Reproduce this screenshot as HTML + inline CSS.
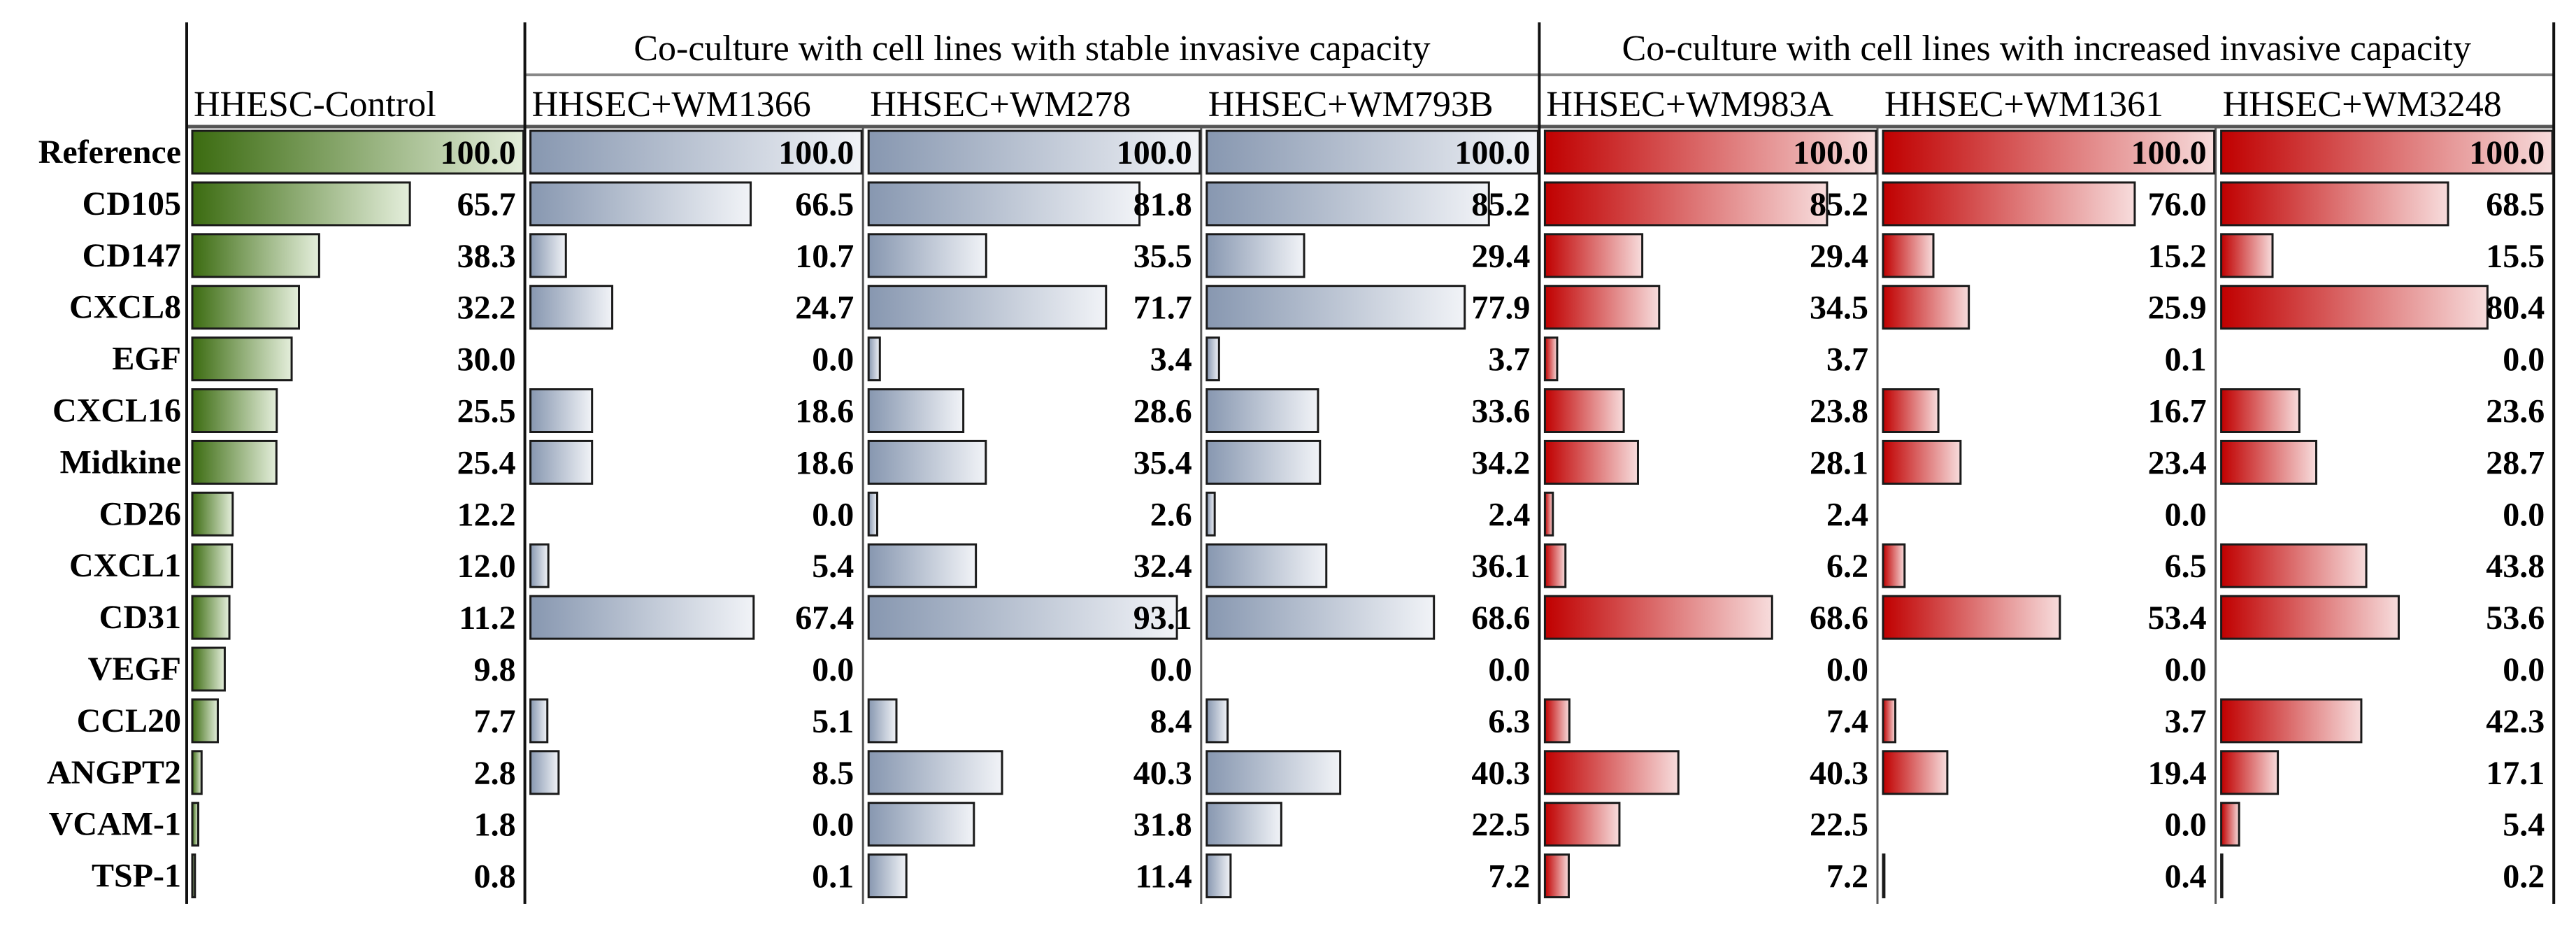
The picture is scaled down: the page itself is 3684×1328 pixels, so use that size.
<!DOCTYPE html>
<html><head><meta charset="utf-8"><style>
html,body{margin:0;padding:0;background:#fff;}
svg{display:block;font-family:"Liberation Serif",serif;}
</style></head><body>
<svg id="chart" width="3684" height="1328" viewBox="0 0 3684 1328" xmlns="http://www.w3.org/2000/svg">
<defs>
<linearGradient id="gGreen" x1="0" x2="1" y1="0" y2="0"><stop offset="0" stop-color="#3b6b10"/><stop offset="1" stop-color="#e4eedb"/></linearGradient>
<linearGradient id="gBlue" x1="0" x2="1" y1="0" y2="0"><stop offset="0" stop-color="#8797b0"/><stop offset="1" stop-color="#f1f3f7"/></linearGradient>
<linearGradient id="gRed" x1="0" x2="1" y1="0" y2="0"><stop offset="0" stop-color="#c00000"/><stop offset="1" stop-color="#f7dcdc"/></linearGradient>
</defs>
</svg>
<script>
const rows = ["Reference","CD105","CD147","CXCL8","EGF","CXCL16","Midkine","CD26","CXCL1","CD31","VEGF","CCL20","ANGPT2","VCAM-1","TSP-1"];
const columns = ["HHESC-Control","HHSEC+WM1366","HHSEC+WM278","HHSEC+WM793B","HHSEC+WM983A","HHSEC+WM1361","HHSEC+WM3248"];
const groups = ["Co-culture with cell lines with stable invasive capacity","Co-culture with cell lines with increased invasive capacity"];
const control = [100,65.7,38.3,32.2,30.0,25.5,25.4,12.2,12.0,11.2,9.8,7.7,2.8,1.8,0.8];
const wm1366 = [100,66.5,10.7,24.7,0.0,18.6,18.6,0.0,5.4,67.4,0.0,5.1,8.5,0.0,0.1];
const wm278 = [100,81.8,35.5,71.7,3.4,28.6,35.4,2.6,32.4,93.1,0.0,8.4,40.3,31.8,11.4];
const wm793b = [100,85.2,29.4,77.9,3.7,33.6,34.2,2.4,36.1,68.6,0.0,6.3,40.3,22.5,7.2];
const wm983a = [100,85.2,29.4,34.5,3.7,23.8,28.1,2.4,6.2,68.6,0.0,7.4,40.3,22.5,7.2];
const wm1361 = [100,76.0,15.2,25.9,0.1,16.7,23.4,0.0,6.5,53.4,0.0,3.7,19.4,0.0,0.4];
const wm3248 = [100,68.5,15.5,80.4,0.0,23.6,28.7,0.0,43.8,53.6,0.0,42.3,17.1,5.4,0.2];
const series = [control,wm1366,wm278,wm793b,wm983a,wm1361,wm3248];
const fills = ["url(#gGreen)","url(#gBlue)","url(#gBlue)","url(#gBlue)","url(#gRed)","url(#gRed)","url(#gRed)"];

const svg = document.getElementById('chart');
const NS = "http://www.w3.org/2000/svg";
const X0 = 267, CW = 483.6, ROW0 = 187, PITCH = 73.9, BH = 61;
const colLeft = i => X0 + i*CW;
const xScale = v => v/100*(CW-10);
const rowY = r => ROW0 + r*PITCH;
function mk(tag, attrs){ const e=document.createElementNS(NS,tag); for(const k in attrs) e.setAttribute(k,attrs[k]); svg.appendChild(e); return e; }

groups.forEach((g,gi)=>{
  const l = colLeft(1+gi*3), r = colLeft(4+gi*3);
  const t = mk('text',{x:(l+r)/2,y:86,'text-anchor':'middle','font-size':52});
  t.textContent = g;
  
  
});
mk('line',{x1:colLeft(1),x2:colLeft(7),y1:107,y2:107,stroke:'#888','stroke-width':4});
mk('line',{x1:267,x2:colLeft(7),y1:181,y2:181,stroke:'#555','stroke-width':5});
[0,1,4,7].forEach(i=>mk('line',{x1:colLeft(i),x2:colLeft(i),y1:32,y2:1292,stroke:'#111','stroke-width':4}));
[2,3,5,6].forEach(i=>mk('line',{x1:colLeft(i),x2:colLeft(i),y1:181,y2:1292,stroke:'#555','stroke-width':3}));

columns.forEach((c,ci)=>{
  const t = mk('text',{x:colLeft(ci)+10,y:166,'font-size':52});
  t.textContent = c;
  
  
});

rows.forEach((r,ri)=>{
  const y = rowY(ri);
  const t = mk('text',{x:259,y:y+46,'text-anchor':'end','font-size':48,'font-weight':'bold'});
  t.textContent = r;
  
  
  series.forEach((s,ci)=>{
    const v = s[ri];
    const bx = colLeft(ci)+8;
    if (v>0.15){
      const w = Math.max(1.5,xScale(v));
      const b = mk('rect',{x:bx,y:y,width:w,height:BH,fill:fills[ci],stroke:'#1a1a1a','stroke-width':3});
      
      
    }
    const vt = mk('text',{x:colLeft(ci)+CW-13,y:y+47,'text-anchor':'end','font-size':48,'font-weight':'bold'});
    vt.textContent = v.toFixed(1);
    
    
  });
});
</script>
</body></html>
